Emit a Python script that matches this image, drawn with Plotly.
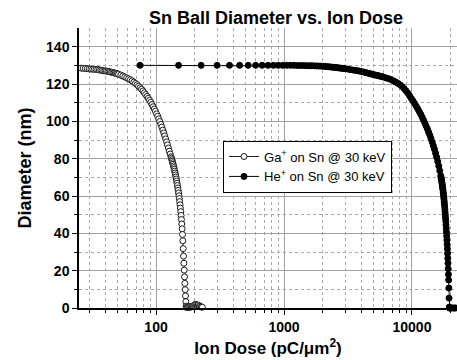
import plotly.graph_objects as go

# ---------------- data ----------------
ga_dose = [25, 26, 27, 28, 29, 30, 31, 32, 33, 34, 35, 36, 37, 38, 39, 40, 41, 42, 43, 44,
           45, 46, 47, 48, 49, 50, 51, 53, 55, 57, 59, 61, 63,
           65, 67, 69, 71, 73, 75, 77, 79, 81, 83, 85, 87, 89, 91, 93, 95, 97, 99, 101, 103,
           105, 107, 109, 111, 113, 115, 117, 119, 121, 123, 125, 127, 129,
           131, 132, 133, 134, 135, 136, 137, 138, 139, 140, 141, 142, 143, 144, 145, 146,
           147, 148, 149, 150, 151, 152, 153, 154, 155, 156, 157, 158, 159, 160, 161, 162,
           163, 164, 165, 166, 167, 168, 169, 170, 171, 172,
           173, 175, 177, 180, 183, 186, 189, 192, 195, 198, 201, 204, 207, 210, 214, 218,
           222, 226, 230]
ga_diam = [128.6, 128.5, 128.4, 128.3, 128.2, 128.1, 128.0, 127.95, 127.9, 127.8, 127.7,
           127.55, 127.4, 127.25, 127.1, 127.0, 126.9, 126.75, 126.6, 126.45,
           126.3, 126.15, 126.0, 125.8, 125.6, 125.4, 125.2, 124.8, 124.3, 123.8, 123.3,
           122.8, 122.3,
           121.7, 121.0, 120.3, 119.6, 118.8, 118.0, 117.2, 116.3, 115.3, 114.3, 113.3, 112.3,
           111.3, 110.2, 109.0, 107.8, 106.6, 105.4, 104.0, 102.7,
           101.3, 99.9, 98.4, 96.9, 95.3, 93.8, 92.2, 90.6, 89.0, 87.4, 85.7, 84.0, 82.5,
           81.0, 80.2, 79.4, 78.6, 77.8, 77.0, 76.1, 75.2, 74.3, 73.3, 72.3, 71.3, 70.2, 69.1,
           68.0, 66.8, 65.6, 64.3, 63.0, 61.6, 60.1, 58.6, 57.0, 55.3, 53.5, 51.6, 49.6, 47.4,
           45.0, 42.4, 39.4, 36.0,
           31.8, 27.8, 24.0, 20.3, 16.7, 13.2, 9.8, 6.5, 3.4, 1.0,
           0.3, 0.5, 0.2, 0.6, 0.4, 0.8, 0.5, 1.0, 0.7, 1.3, 1.8, 2.0, 1.5, 1.2, 1.6, 1.0,
           0.8, 0.6, 0.4]

he_dose = [75, 150, 225, 300, 375, 450, 525, 600, 675, 750, 825, 900, 975, 1050, 1125, 1200,
           1275, 1350, 1425, 1500,
           1575, 1650, 1725, 1800, 1875, 1950, 2025, 2100, 2175, 2250, 2325, 2400, 2475, 2550,
           2625, 2700, 2775, 2850, 2925, 3000,
           3150, 3300, 3450, 3600, 3750, 3900, 4050, 4200, 4350, 4500, 4650, 4800, 4950, 5100,
           5250, 5400, 5550, 5700, 5850, 6000,
           6300, 6600, 6900, 7200, 7500, 7800, 8100, 8400, 8700, 9000, 9300, 9600, 9900, 10200,
           10500, 10800, 11100, 11400, 11700, 12000, 12300, 12600, 12900, 13200, 13500, 13800,
           14100, 14400, 14700, 15000, 15300, 15600, 15900, 16200, 16500, 16800,
           16875, 16950, 17025, 17100, 17175, 17250, 17325, 17400, 17475, 17550, 17625, 17700,
           17775, 17850, 17925, 18000, 18075, 18150, 18225, 18300, 18375, 18450, 18525, 18600,
           18675, 18750, 18825, 18900, 18975, 19050, 19125, 19200, 19275, 19350, 19425, 19500,
           19575,
           19650, 19800, 20000, 20500, 21000, 21500, 22000]
he_diam = [130.0, 130.0, 130.0, 130.0, 130.0, 130.0, 130.0, 130.0, 130.0, 130.0, 130.0, 130.0,
           130.0, 130.0, 130.0, 130.0, 129.9, 129.9, 129.9, 129.8,
           129.8, 129.8, 129.7, 129.7, 129.6, 129.6, 129.5, 129.4, 129.3, 129.2, 129.1, 129.0,
           128.9, 128.8, 128.7, 128.6, 128.5, 128.4, 128.3, 128.2,
           128.0, 127.7, 127.5, 127.3, 127.1, 126.9, 126.6, 126.4, 126.1, 125.9, 125.6, 125.4,
           125.1, 124.9, 124.7, 124.5, 124.3, 124.1, 123.9, 123.7,
           123.2, 122.8, 122.3, 121.6, 121.0, 120.3, 119.5, 118.6, 117.5, 116.3, 115.0, 113.6,
           112.2, 110.9, 109.5, 108.1, 106.7, 105.3, 103.8, 102.3, 100.7, 99.1, 97.5, 95.9,
           94.2, 92.5, 90.7, 88.8, 86.9, 85.0, 82.9, 80.8, 78.5, 76.1, 73.5, 70.8,
           70.1, 69.3, 68.5, 67.7, 66.8, 65.9, 65.0, 64.1, 63.1, 62.0, 60.9, 59.7,
           58.5, 57.2, 55.9, 54.5, 53.0, 51.5, 49.9, 48.2, 46.5, 44.6, 42.7, 40.7,
           38.6, 36.4, 34.1, 31.7, 29.2, 26.6, 24.0, 21.0, 18.0, 15.0, 10.7, 5.3,
           0.5,
           0.0, 0.0, 0.0, 0.0, 0.0, 0.0, 0.0]

x_tickvals = [100, 1000, 10000]
x_ticktext = ["100", "1000", "10000"]
x_minorvals = [30, 40, 50, 60, 70, 80, 90,
               200, 300, 400, 500, 600, 700, 800, 900,
               2000, 3000, 4000, 5000, 6000, 7000, 8000, 9000,
               20000]
y_tickvals = [0, 20, 40, 60, 80, 100, 120, 140]
y_minorvals = [10, 30, 50, 70, 90, 110, 130]

FONT = "Arial, Liberation Sans, Helvetica, sans-serif"

fig = go.Figure()
fig.add_trace(go.Scatter(
    x=ga_dose, y=ga_diam, mode="lines+markers",
    name="Ga<sup>+</sup> on Sn @ 30 keV",
    line=dict(color="#222222", width=1),
    marker=dict(symbol="circle", size=6, color="white",
                line=dict(color="#1a1a1a", width=1)),
    cliponaxis=False,
))
fig.add_trace(go.Scatter(
    x=he_dose, y=he_diam, mode="lines+markers",
    name="He<sup>+</sup> on Sn @ 30 keV",
    line=dict(color="black", width=1),
    marker=dict(symbol="circle", size=6, color="black",
                line=dict(color="black", width=1)),
    cliponaxis=False,
))

fig.update_layout(
    width=457, height=360,
    margin=dict(l=79, r=0, t=28, b=52),
    paper_bgcolor="white", plot_bgcolor="white",
    font=dict(family=FONT, color="black", size=14),
    title=dict(text="<b>Sn Ball Diameter vs. Ion Dose</b>",
               x=0.604, xanchor="center", y=0.95, yanchor="middle",
               font=dict(size=18, family=FONT, color="black")),
    showlegend=True,
    legend=dict(x=0.381, y=0.598, xanchor="left", yanchor="top",
                bgcolor="white", bordercolor="black", borderwidth=1,
                font=dict(size=13, family=FONT, color="black"),
                itemwidth=30, tracegroupgap=0),
)

fig.update_xaxes(
    type="log", range=[1.398, 4.352],
    tickmode="array", tickvals=x_tickvals, ticktext=x_ticktext,
    tickfont=dict(size=14, family=FONT, weight="bold"),
    ticks="outside", ticklen=5, tickwidth=1, tickcolor="black",
    showline=True, linecolor="black", linewidth=1.5,
    showgrid=True, gridcolor="#a0a0a0", gridwidth=1,
    zeroline=False, mirror=False,
    minor=dict(tickmode="array", tickvals=x_minorvals,
               ticks="outside", ticklen=3, tickcolor="black", showgrid=True,
               gridcolor="#a8a8a8", griddash="dot", gridwidth=1),
    title=dict(text="Ion Dose (pC/μm<sup>2</sup>)", standoff=9,
               font=dict(size=17, family=FONT, weight="bold")),
)
fig.update_yaxes(
    range=[0, 150],
    tickmode="array", tickvals=y_tickvals,
    tickfont=dict(size=14, family=FONT, weight="bold"),
    ticks="outside", ticklen=5, tickwidth=1, tickcolor="black",
    showline=True, linecolor="black", linewidth=1.5,
    showgrid=True, gridcolor="#a0a0a0", gridwidth=1,
    zeroline=False, mirror=False,
    minor=dict(tickmode="array", tickvals=y_minorvals,
               ticks="outside", ticklen=3, tickcolor="black",
               showgrid=True, gridcolor="#a8a8a8", griddash="dot", gridwidth=1),
    title=dict(text="Diameter (nm)", standoff=10,
               font=dict(size=18, family=FONT, weight="bold")),
)

fig.write_html("out.html")
